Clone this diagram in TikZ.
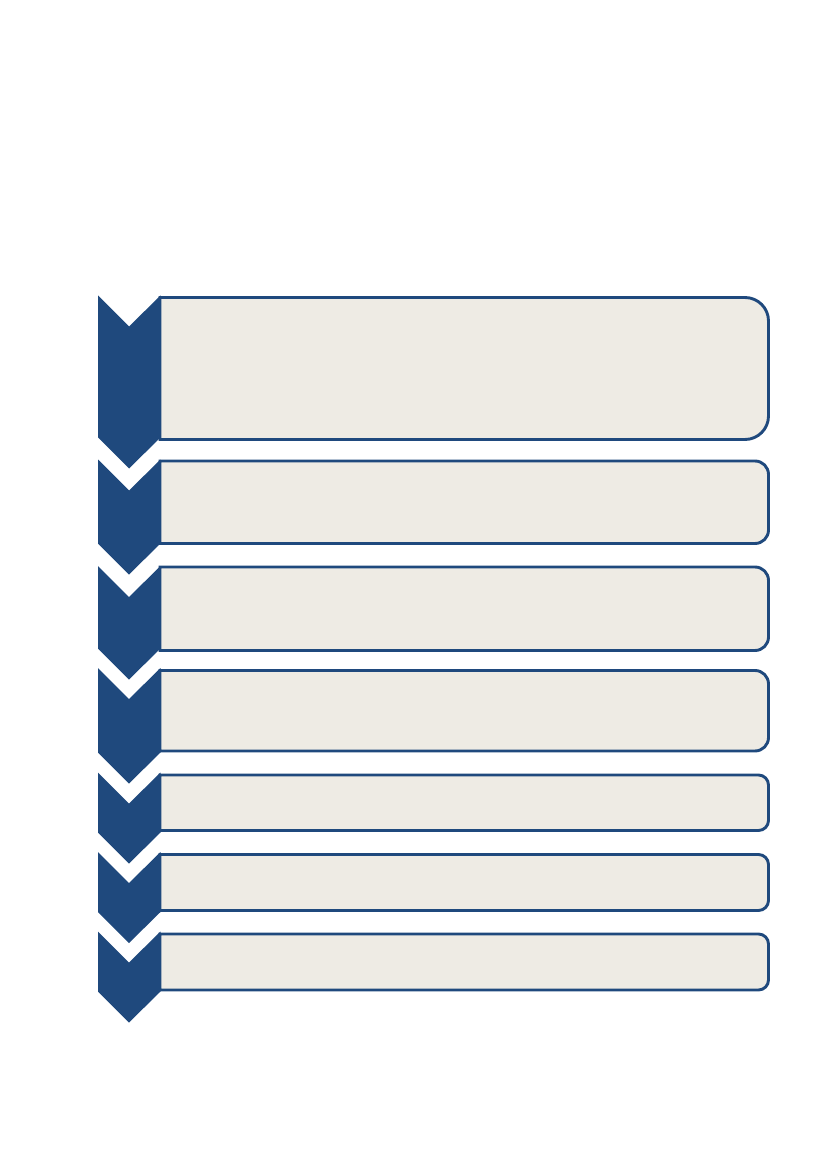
\documentclass[tikz,border=0pt]{standalone}
\definecolor{stepblue}{RGB}{31,73,125}
\definecolor{stepfill}{RGB}{238,235,228}
\begin{document}
\begin{tikzpicture}
[   x=0.254mm, y=0.254mm,
    stepbox/.style={draw=stepblue,fill=stepfill,line width=2.1pt},
    chevron/.style={fill=stepblue},
]
    %
    \useasboundingbox (0,0) rectangle (827,-1169);

    % box top/bottom/corner radius, chevron top/tip
    \foreach \i/\top/\bot/\r/\ctop/\ctip in {1/297.5/439.5/23.5/295.5/468.5, 2/461/543.5/13.5/459.5/574.5, 3/567/650.5/13.5/566/679.5, 4/670.5/751/13.5/668/783.5, 5/775/830.5/10/772.5/863.5, 6/854.5/910.5/10/852/943, 7/934/990/10/931.5/1022.5}
    {
        \filldraw[stepbox] (160,-\top) -- (768.5-\r,-\top) arc[start angle=90,end angle=0,radius=\r]
            -- (768.5,-\bot+\r) arc[start angle=0,end angle=-90,radius=\r] -- (160,-\bot) -- cycle;
        \fill[chevron] (98,-\ctop) -- (129,-\ctop-31) -- (160.5,-\ctop)
            -- (160.5,-\ctip+31) -- (129,-\ctip) -- (98,-\ctip+31) -- cycle;
    }
\end{tikzpicture}
\end{document}
